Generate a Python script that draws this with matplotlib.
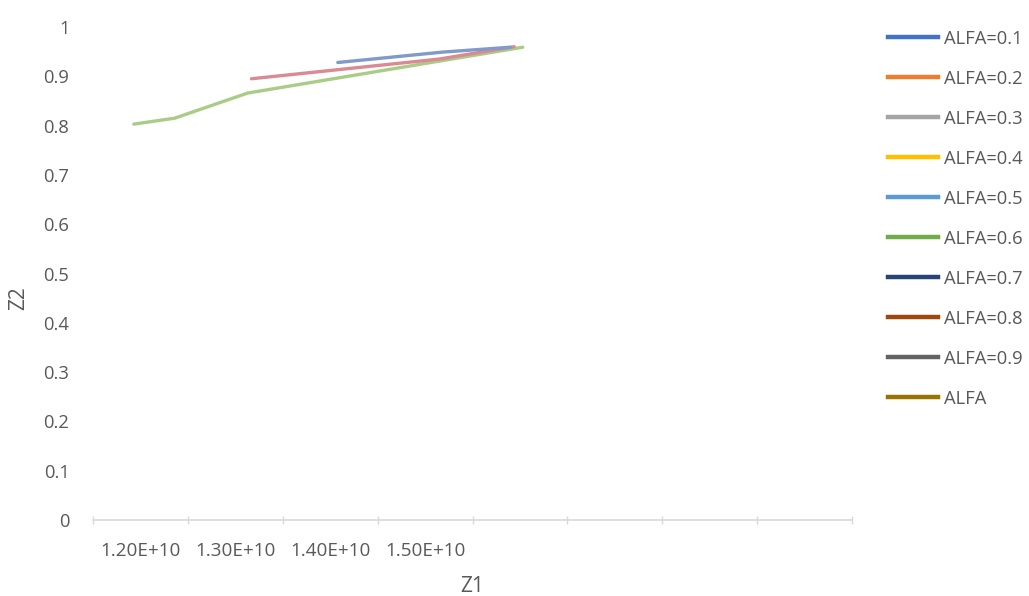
import matplotlib
matplotlib.use("Agg")
import matplotlib.pyplot as plt
from matplotlib.lines import Line2D
import numpy as np

# ---- data ----
series_names = ["ALFA=0.1", "ALFA=0.2", "ALFA=0.3", "ALFA=0.4", "ALFA=0.5",
                "ALFA=0.6", "ALFA=0.7", "ALFA=0.8", "ALFA=0.9", "ALFA"]
legend_colors = ["#4472C4", "#ED7D31", "#A5A5A5", "#FFC000", "#5B9BD5",
                 "#70AD47", "#264478", "#9E480E", "#636363", "#997300"]

blue_x = [1.408e10, 1.518e10, 1.590e10]
blue_y = [0.928, 0.949, 0.959]
pink_x = [1.317e10, 1.515e10, 1.594e10]
pink_y = [0.895, 0.935, 0.960]
green_x = [1.193e10, 1.236e10, 1.313e10, 1.450e10, 1.603e10]
green_y = [0.803, 0.815, 0.866, 0.910, 0.959]

x_label_values = [1.20e10, 1.30e10, 1.40e10, 1.50e10]
x_label_texts = ["1.20E+10", "1.30E+10", "1.40E+10", "1.50E+10"]
y_ticks = [0, 0.1, 0.2, 0.3, 0.4, 0.5, 0.6, 0.7, 0.8, 0.9, 1]
y_tick_texts = ["0", "0.1", "0.2", "0.3", "0.4", "0.5", "0.6", "0.7", "0.8", "0.9", "1"]
x_min, x_max, x_step = 1.15e10, 1.95e10, 0.1e10

plt.rcParams['font.family'] = ['Open Sans', 'DejaVu Sans']
fig = plt.figure(figsize=(10.29, 5.96), dpi=100)
ax = fig.add_axes([0.0904, 0.1275, 0.7376, 0.8272])

ax.plot(green_x, green_y, color="#A9CC86", lw=2.4, solid_capstyle="round")
ax.plot(pink_x, pink_y, color="#D98A93", lw=2.4, solid_capstyle="round")
ax.plot(blue_x, blue_y, color="#7F9ACB", lw=2.4, solid_capstyle="round")

ax.set_xlim(x_min, x_max)
ax.set_ylim(0, 1)

for s in ["top", "right", "left"]:
    ax.spines[s].set_visible(False)
ax.spines["bottom"].set_color("#D9D9D9")
ax.spines["bottom"].set_linewidth(1.2)

ax.set_xticks(np.arange(x_min, x_max + x_step / 2, x_step))
ax.set_xticklabels([])
ax.tick_params(axis="x", which="major", direction="inout", length=6, color="#D9D9D9", width=1)
ax.set_xticks(x_label_values, minor=True)
ax.set_xticklabels(x_label_texts, minor=True)
ax.tick_params(axis="x", which="minor", length=0, pad=16, labelsize=13.6, labelcolor="#595959")

ax.set_yticks(y_ticks)
ax.set_yticklabels(y_tick_texts)
ax.tick_params(axis="y", length=0, pad=17, labelsize=13.2, labelcolor="#595959")

fig.text(472 / 1029, 1 - 586 / 596, "Z1", fontsize=15, color="#595959", ha="center", va="center")
fig.text(19 / 1029, 1 - 298 / 596, "Z2", fontsize=15, color="#595959", ha="center", va="center",
         rotation=90)

handles = [Line2D([0], [0], color=c, lw=3.2) for c in legend_colors]
leg = fig.legend(handles, series_names, loc="upper left", bbox_to_anchor=(888 / 1029, 0.950),
                 frameon=False, fontsize=13.2, labelcolor="#595959", borderpad=0,
                 borderaxespad=0, handlelength=2.75, handletextpad=0.3, labelspacing=1.2)

fig.savefig("out.png", dpi=100)
